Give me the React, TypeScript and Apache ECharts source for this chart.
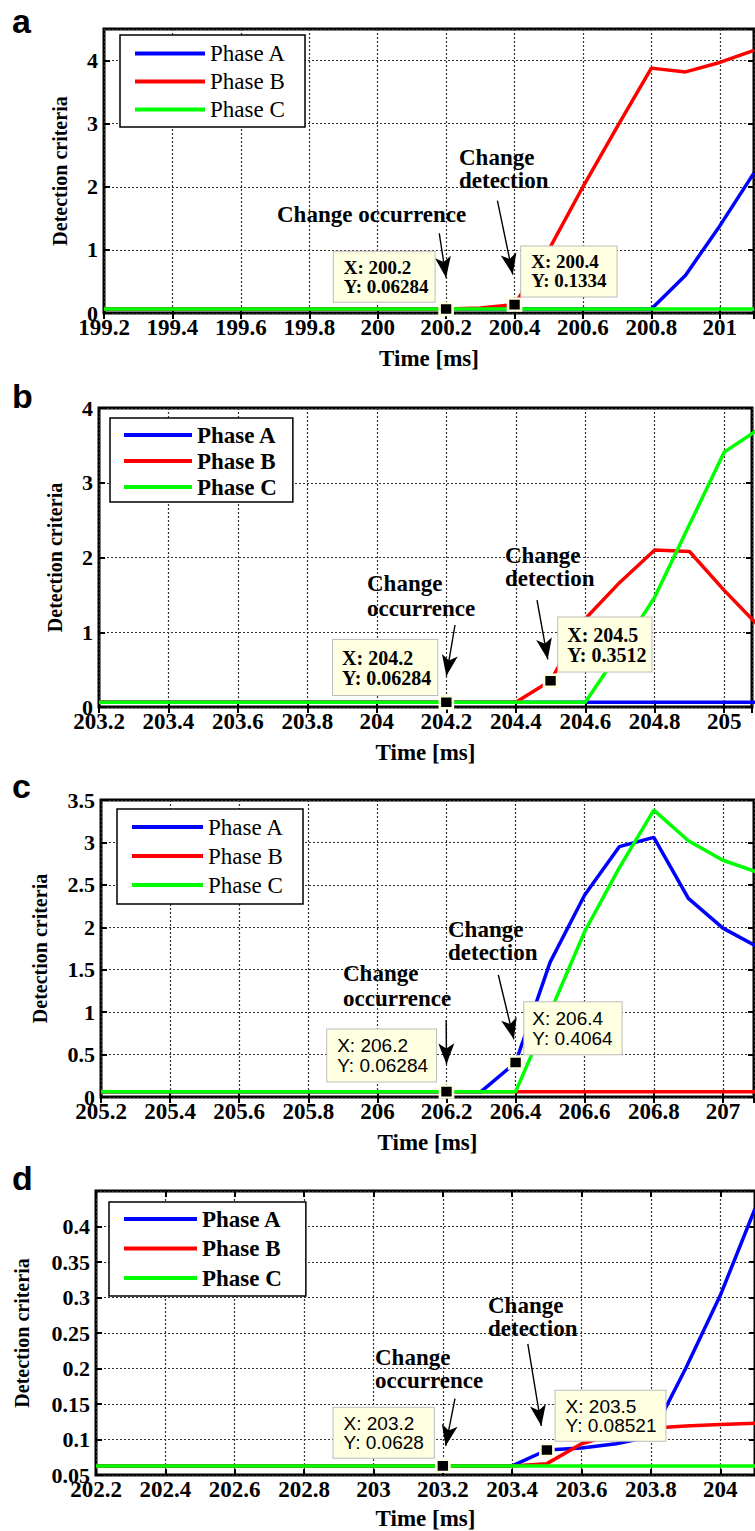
import React, { useEffect, useRef } from "react";
import * as echarts from "echarts";

// ---------------- data ----------------
const timeA = [199.2, 199.3, 199.4, 199.5, 199.6, 199.7, 199.8, 199.9, 200.0, 200.1, 200.2, 200.3, 200.4, 200.5, 200.6, 200.7, 200.8, 200.9, 201.0, 201.1];
const aPhaseA = [0.06284, 0.06284, 0.06284, 0.06284, 0.06284, 0.06284, 0.06284, 0.06284, 0.06284, 0.06284, 0.06284, 0.06284, 0.06284, 0.06284, 0.06284, 0.06284, 0.06284, 0.6, 1.38, 2.22];
const aPhaseB = [0.06284, 0.06284, 0.06284, 0.06284, 0.06284, 0.06284, 0.06284, 0.06284, 0.06284, 0.06284, 0.06284, 0.08, 0.1334, 1.0, 2.0, 2.95, 3.88, 3.82, 3.97, 4.16];
const aPhaseC = [0.06284, 0.06284, 0.06284, 0.06284, 0.06284, 0.06284, 0.06284, 0.06284, 0.06284, 0.06284, 0.06284, 0.06284, 0.06284, 0.06284, 0.06284, 0.06284, 0.06284, 0.06284, 0.06284, 0.06284];

const timeB = [203.2, 203.3, 203.4, 203.5, 203.6, 203.7, 203.8, 203.9, 204.0, 204.1, 204.2, 204.3, 204.4, 204.5, 204.6, 204.7, 204.8, 204.9, 205.0, 205.1];
const bPhaseA = [0.06284, 0.06284, 0.06284, 0.06284, 0.06284, 0.06284, 0.06284, 0.06284, 0.06284, 0.06284, 0.06284, 0.06284, 0.06284, 0.06284, 0.06284, 0.06284, 0.06284, 0.06284, 0.06284, 0.06284];
const bPhaseB = [0.06284, 0.06284, 0.06284, 0.06284, 0.06284, 0.06284, 0.06284, 0.06284, 0.06284, 0.06284, 0.06284, 0.06284, 0.06284, 0.3512, 1.18, 1.67, 2.1, 2.08, 1.56, 1.08];
const bPhaseC = [0.06284, 0.06284, 0.06284, 0.06284, 0.06284, 0.06284, 0.06284, 0.06284, 0.06284, 0.06284, 0.06284, 0.06284, 0.06284, 0.06284, 0.06284, 0.75, 1.47, 2.44, 3.41, 3.72];

const timeC = [205.2, 205.3, 205.4, 205.5, 205.6, 205.7, 205.8, 205.9, 206.0, 206.1, 206.2, 206.3, 206.4, 206.5, 206.6, 206.7, 206.8, 206.9, 207.0, 207.1];
const cPhaseA = [0.06284, 0.06284, 0.06284, 0.06284, 0.06284, 0.06284, 0.06284, 0.06284, 0.06284, 0.06284, 0.06284, 0.06284, 0.4064, 1.59, 2.38, 2.95, 3.06, 2.34, 1.99, 1.77];
const cPhaseB = [0.06284, 0.06284, 0.06284, 0.06284, 0.06284, 0.06284, 0.06284, 0.06284, 0.06284, 0.06284, 0.06284, 0.06284, 0.06284, 0.06284, 0.06284, 0.06284, 0.06284, 0.06284, 0.06284, 0.06284];
const cPhaseC = [0.06284, 0.06284, 0.06284, 0.06284, 0.06284, 0.06284, 0.06284, 0.06284, 0.06284, 0.06284, 0.06284, 0.06284, 0.06284, 1.0, 1.95, 2.7, 3.38, 3.02, 2.79, 2.65];

const timeD = [202.2, 202.3, 202.4, 202.5, 202.6, 202.7, 202.8, 202.9, 203.0, 203.1, 203.2, 203.3, 203.4, 203.5, 203.6, 203.7, 203.8, 203.9, 204.0, 204.1];
const dPhaseA = [0.0628, 0.0628, 0.0628, 0.0628, 0.0628, 0.0628, 0.0628, 0.0628, 0.0628, 0.0628, 0.0628, 0.0628, 0.0628, 0.08521, 0.088, 0.094, 0.104, 0.2, 0.303, 0.425];
const dPhaseB = [0.0628, 0.0628, 0.0628, 0.0628, 0.0628, 0.0628, 0.0628, 0.0628, 0.0628, 0.0628, 0.0628, 0.0628, 0.0628, 0.066, 0.094, 0.108, 0.116, 0.119, 0.121, 0.123];
const dPhaseC = [0.0628, 0.0628, 0.0628, 0.0628, 0.0628, 0.0628, 0.0628, 0.0628, 0.0628, 0.0628, 0.0628, 0.0628, 0.0628, 0.0628, 0.0628, 0.0628, 0.0628, 0.0628, 0.0628, 0.0628];

// datatips: change occurrence and change detection points per panel (a, b, c, d)
const occurrenceX = [200.2, 204.2, 206.2, 203.2];
const occurrenceY = [0.06284, 0.06284, 0.06284, 0.0628];
const detectionX = [200.4, 204.5, 206.4, 203.5];
const detectionY = [0.1334, 0.3512, 0.4064, 0.08521];

const phaseNames = ["Phase A", "Phase B", "Phase C"];
const phaseColors = ["#0000FF", "#FF0000", "#00FF00"];

// ---------------- styling ----------------
const SERIF = '"Liberation Serif", "Times New Roman", Times, serif';
const SANS = '"Liberation Sans", Arial, Helvetica, sans-serif';

const PANELS = [
  {
    letter: "a", letterY: 21,
    time: timeA, phases: [aPhaseA, aPhaseB, aPhaseC],
    grid: { left: 104, top: 29, width: 650, height: 284 },
    x: [199.2, 201.1], y: [0, 4.5, 1], hideMaxY: true,
    yNameGap: 34, xNameGap: 34,
    legend: { left: 120, top: 35, padding: [7, 19, 6, 15], itemWidth: 70, itemGap: 5, bold: false },
    tipFont: { fontFamily: SERIF, fontWeight: "bold", fontSize: 19, lineHeight: 19 },
    occTip: { pos: [-104.5, -50], padding: [6, 6, 6, 10] },
    detTip: { pos: [14.5, -51], padding: [6, 10, 6, 10] },
    occArrow: [[200.18, 1.263], [200.2, 0.56]],
    detArrow: [[200.35, 1.78], [200.395, 0.61]],
    occText: { text: "Change occurrence", x: 277, y: 202, lh: 24 },
    detText: { text: "Change\ndetection", x: 459, y: 146, lh: 23 },
  },
  {
    letter: "b", letterY: 396,
    time: timeB, phases: [bPhaseA, bPhaseB, bPhaseC],
    grid: { left: 99, top: 408, width: 653, height: 299 },
    x: [203.2, 205.08], y: [0, 4, 1], hideMaxY: false,
    yNameGap: 34, xNameGap: 34,
    legend: { left: 110, top: 418, padding: [5.5, 16, 3.5, 14], itemWidth: 68, itemGap: 3, bold: true },
    tipFont: { fontFamily: SERIF, fontWeight: "bold", fontSize: 20, lineHeight: 20 },
    occTip: { pos: [-105.5, -55], padding: [7.5, 6, 7.5, 9] },
    detTip: { pos: [15.5, -56], padding: [7, 5, 7, 9] },
    occArrow: [[204.225, 1.097], [204.2, 0.415]],
    detArrow: [[204.461, 1.43], [204.492, 0.638]],
    occText: { text: "Change\noccurrence", x: 367, y: 570.5, lh: 25 },
    detText: { text: "Change\ndetection", x: 505, y: 543.5, lh: 23 },
  },
  {
    letter: "c", letterY: 786,
    time: timeC, phases: [cPhaseA, cPhaseB, cPhaseC],
    grid: { left: 101, top: 800, width: 653, height: 297 },
    x: [205.2, 207.09], y: [0, 3.5, 0.5], hideMaxY: false,
    yNameGap: 51, xNameGap: 34,
    legend: { left: 117, top: 809, padding: [6.5, 19, 7.5, 15], itemWidth: 71, itemGap: 6, bold: false },
    tipFont: { fontFamily: SANS, fontWeight: "normal", fontSize: 19, lineHeight: 19.5 },
    occTip: { pos: [-111.5, -55], padding: [6.5, 8, 6.5, 10] },
    detTip: { pos: [16.5, -53], padding: [6.5, 9, 6.5, 8] },
    occArrow: [[206.199, 0.907], [206.2, 0.385]],
    detArrow: [[206.35, 1.438], [206.395, 0.68]],
    occText: { text: "Change\noccurrence", x: 343, y: 960.5, lh: 25 },
    detText: { text: "Change\ndetection", x: 448, y: 917.5, lh: 23 },
  },
  {
    letter: "d", letterY: 1178,
    time: timeD, phases: [dPhaseA, dPhaseB, dPhaseC],
    grid: { left: 96, top: 1191, width: 667, height: 286 },
    x: [202.2, 204.1], y: [0.05, 0.45, 0.05], hideMaxY: true,
    yNameGap: 64, xNameGap: 32,
    legend: { left: 109, top: 1202, padding: [5.5, 24, 6.5, 15], itemWidth: 73, itemGap: 6.5, bold: true },
    tipFont: { fontFamily: SANS, fontWeight: "normal", fontSize: 19, lineHeight: 19 },
    occTip: { pos: [-101.5, -51], padding: [6, 10, 6, 10] },
    detTip: { pos: [16.5, -52], padding: [6, 9, 6, 10] },
    occArrow: [[203.235, 0.1577], [203.208, 0.091]],
    detArrow: [[203.445, 0.2346], [203.484, 0.119]],
    occText: { text: "Change\noccurrence", x: 375, y: 1345.5, lh: 23 },
    detText: { text: "Change\ndetection", x: 488, y: 1294, lh: 23 },
  },
];

function tipItem(x: number, y: number, cfg: any, font: any) {
  return {
    coord: [x, y],
    symbol: "rect",
    symbolSize: [13, 12],
    itemStyle: { color: "#000", borderColor: "#FFFFE1", borderWidth: 2.5 },
    label: {
      show: true,
      position: cfg.pos,
      formatter: `X: ${x}\nY: ${y}`,
      color: "#000",
      ...font,
      backgroundColor: "#FFFFE1",
      borderColor: "#BDBDBD",
      borderWidth: 1,
      padding: cfg.padding,
      align: "left",
      verticalAlign: "top",
    },
  };
}

function arrowItem(a: number[][]) {
  return [
    { coord: a[0], symbol: "none" },
    { coord: a[1], symbol: "arrow", symbolSize: [12, 21] },
  ];
}

function buildOption() {
  const grids: any[] = [];
  const xAxes: any[] = [];
  const yAxes: any[] = [];
  const series: any[] = [];
  const legends: any[] = [];
  const graphics: any[] = [];

  const gridLine = { show: true, lineStyle: { color: "#333", width: 1.2, type: [2, 2] } };
  const tick = { show: true, inside: true, length: 6, lineStyle: { color: "#000", width: 2 } };
  const annotFont = `bold 23px ${SERIF}`;

  PANELS.forEach((p, i) => {
    grids.push({ ...p.grid, show: true, borderColor: "#000", borderWidth: 3, backgroundColor: "rgba(0,0,0,0)" });

    xAxes.push({
      type: "value", gridIndex: i, position: "bottom",
      min: p.x[0], max: p.x[1], interval: 0.2,
      axisLine: { show: false }, axisTick: tick, splitLine: gridLine,
      axisLabel: { show: true, margin: 3, fontFamily: SERIF, fontWeight: "bold", fontSize: 23, color: "#000", showMaxLabel: false },
      name: "Time [ms]", nameLocation: "middle", nameGap: p.xNameGap,
      nameTextStyle: { fontFamily: SERIF, fontWeight: "bold", fontSize: 23, color: "#000" },
    });
    xAxes.push({
      type: "value", gridIndex: i, position: "top",
      min: p.x[0], max: p.x[1], interval: 0.2,
      axisLine: { show: false }, axisTick: tick, splitLine: { show: false }, axisLabel: { show: false },
    });
    yAxes.push({
      type: "value", gridIndex: i, position: "left",
      min: p.y[0], max: p.y[1], interval: p.y[2],
      axisLine: { show: false }, axisTick: tick, splitLine: gridLine,
      axisLabel: { show: true, margin: 6, fontFamily: SERIF, fontWeight: "bold", fontSize: 22, color: "#000", showMaxLabel: !p.hideMaxY },
      name: "Detection criteria", nameLocation: "middle", nameGap: p.yNameGap,
      nameTextStyle: { fontFamily: SERIF, fontWeight: "bold", fontSize: 20, color: "#000" },
    });
    yAxes.push({
      type: "value", gridIndex: i, position: "right",
      min: p.y[0], max: p.y[1], interval: p.y[2],
      axisLine: { show: false }, axisTick: tick, splitLine: { show: false }, axisLabel: { show: false },
    });

    p.phases.forEach((vals, k) => {
      const s: any = {
        type: "line",
        name: phaseNames[k],
        xAxisIndex: i * 2,
        yAxisIndex: i * 2,
        data: p.time.map((t, j) => [t, vals[j]]),
        symbol: "none",
        showSymbol: false,
        silent: true,
        z: 2 + k,
        lineStyle: { color: phaseColors[k], width: 3.5 },
        itemStyle: { color: phaseColors[k] },
      };
      if (k === 2) {
        s.markLine = {
          silent: true,
          symbol: ["none", "arrow"],
          label: { show: false },
          lineStyle: { color: "#000", width: 1.4, type: "solid" },
          itemStyle: { color: "#000" },
          emphasis: { disabled: true },
          data: [arrowItem(p.occArrow), arrowItem(p.detArrow)],
          z: 6,
        };
        s.markPoint = {
          silent: true,
          emphasis: { disabled: true },
          data: [
            tipItem(occurrenceX[i], occurrenceY[i], p.occTip, p.tipFont),
            tipItem(detectionX[i], detectionY[i], p.detTip, p.tipFont),
          ],
          z: 7,
        };
      }
      series.push(s);
    });

    legends.push({
      show: true,
      orient: "vertical",
      left: p.legend.left,
      top: p.legend.top,
      padding: p.legend.padding,
      itemGap: p.legend.itemGap,
      itemWidth: p.legend.itemWidth,
      itemHeight: 4,
      icon: "rect",
      selectedMode: false,
      backgroundColor: "#FFFFFF",
      borderColor: "#000",
      borderWidth: 1.5,
      data: phaseNames,
      textStyle: {
        fontFamily: SERIF,
        fontWeight: p.legend.bold ? "bold" : "normal",
        fontSize: 23,
        lineHeight: 23,
        color: "#000",
      },
      z: 8,
    });

    graphics.push({
      type: "text", x: 12, y: p.letterY, z: 10,
      style: { text: p.letter, font: `bold 34px ${SANS}`, fill: "#000", align: "left", verticalAlign: "middle" },
    });
    [p.occText, p.detText].forEach((t) => {
      graphics.push({
        type: "text", x: t.x, y: t.y, z: 10,
        style: { text: t.text, font: annotFont, fill: "#000", align: "left", verticalAlign: "top", lineHeight: t.lh },
      });
    });
  });

  return {
    animation: false,
    backgroundColor: "#FFFFFF",
    grid: grids,
    xAxis: xAxes,
    yAxis: yAxes,
    legend: legends,
    series,
    graphic: graphics,
  };
}

export default function App() {
  const ref = useRef<HTMLDivElement>(null);
  useEffect(() => {
    if (!ref.current) return;
    const chart = echarts.init(ref.current, undefined, { renderer: "svg" });
    chart.setOption(buildOption() as any);
    return () => chart.dispose();
  }, []);
  return (
    <div
      ref={ref}
      style={{ position: "absolute", left: 0, top: 0, width: 755, height: 1531, background: "#fff" }}
    />
  );
}
